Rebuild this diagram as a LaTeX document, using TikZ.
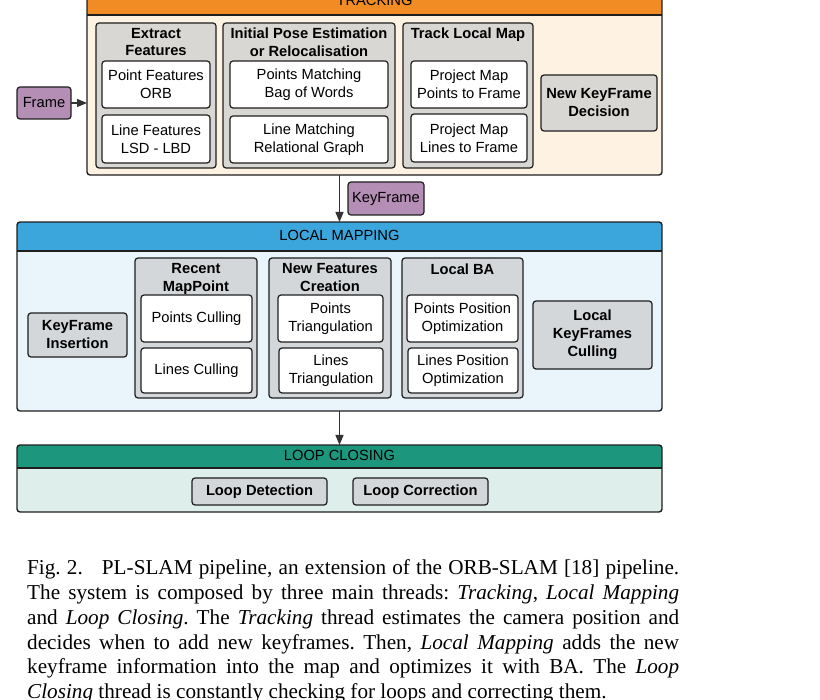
\documentclass[tikz,border=0pt]{standalone}
\usepackage{fontspec}
\setmainfont{Liberation Serif}
\setsansfont{Liberation Sans}
\usetikzlibrary{arrows.meta,calc}

\definecolor{edge}{RGB}{30,30,30}
\definecolor{arrowc}{RGB}{50,50,50}
\definecolor{trkhead}{RGB}{240,140,35}
\definecolor{trkbody}{RGB}{254,242,227}
\definecolor{trkgray}{RGB}{217,215,212}
\definecolor{lmhead}{RGB}{58,166,220}
\definecolor{lmbody}{RGB}{234,244,251}
\definecolor{lchead}{RGB}{28,150,125}
\definecolor{lcbody}{RGB}{222,239,235}
\definecolor{coolgray}{RGB}{212,215,218}
\definecolor{msg}{RGB}{180,142,180}

\begin{document}
\begin{tikzpicture}[x=1pt, y=-1pt,
  every node/.style={font=\sffamily\fontsize{14.7}{18}\selectfont},
  thread/.style={inner sep=0pt, outer sep=0pt},
  threadline/.style={draw=edge, line width=1.4pt, rounded corners=3pt},
  group/.style={draw=edge, line width=1.2pt, rounded corners=3pt, inner sep=0pt, outer sep=0pt},
  grouptitle/.style={font=\sffamily\bfseries\fontsize{14.7}{17.5}\selectfont,
    align=center, inner sep=0pt, anchor=north},
  leaf/.style={draw=edge, fill=white, line width=1.2pt, rounded corners=3pt,
    align=center, inner sep=0pt, outer sep=0pt},
  stage/.style={draw=edge, line width=1.2pt, rounded corners=3pt, align=center,
    inner sep=0pt, outer sep=0pt, font=\sffamily\bfseries\fontsize{14.7}{18}\selectfont},
  datum/.style={draw=edge, fill=msg, line width=1.2pt, rounded corners=3pt,
    inner sep=0pt, outer sep=0pt},
  flow/.style={draw=arrowc, line width=1.2pt, ->},
  >={Triangle[length=10pt,width=8pt]}]

\useasboundingbox (0,0) rectangle (820,700);
\clip (0,0) rectangle (820,700);

\def\hdr{29}  %% header band height

%% ── Tracking thread ─────────────────────────────────────────────────────────
\node[thread, fill=trkbody, minimum width=575pt, minimum height=189pt]
  (tracking) at (374.5,80.5) {};
\begin{scope}
  \clip[rounded corners=3pt] (tracking.north west) rectangle (tracking.south east);
  \fill[trkhead] (tracking.north west) rectangle ($(tracking.north east)+(0,\hdr)$);
\end{scope}
\draw[threadline] (tracking.north west) rectangle (tracking.south east);
\draw[edge, line width=1.2pt] ($(tracking.north west)+(0,\hdr)$) -- ($(tracking.north east)+(0,\hdr)$);
\node (trackhead) at ($(tracking.north)+(0,14.5)$) {TRACKING};

%% Extract features
\node[group, fill=trkgray, minimum width=120pt, minimum height=145pt] (extract) at (156,95.5) {};
\node[grouptitle] (extracttitle) at ($(extract.north)+(0,5)$) {Extract\\Features};
\node[leaf, minimum width=108pt, minimum height=47pt] (ptfeat) at (156,84.5) {Point Features\\ORB};
\node[leaf, minimum width=108pt, minimum height=48pt] (lnfeat) at (156,139) {Line Features\\LSD - LBD};

%% Initial pose
\node[group, fill=trkgray, minimum width=172pt, minimum height=145pt] (initpose) at (309,95.5) {};
\node[grouptitle] (initposetitle) at ($(initpose.north)+(0,5)$) {Initial Pose Estimation\\or Relocalisation};
\node[leaf, minimum width=158pt, minimum height=47pt] (ptmatch) at (309,84.5) {Points Matching\\Bag of Words};
\node[leaf, minimum width=158pt, minimum height=47pt] (lnmatch) at (309,139.5) {Line Matching\\Relational Graph};

%% Track local map
\node[group, fill=trkgray, minimum width=130pt, minimum height=145pt] (trackmap) at (468,95.5) {};
\node[grouptitle] (trackmaptitle) at ($(trackmap.north)+(0,5)$) {Track Local Map};
\node[leaf, minimum width=116pt, minimum height=47pt] (projpts) at (469,84.5) {Project Map\\Points to Frame};
\node[leaf, minimum width=116pt, minimum height=48pt] (projlns) at (469,138) {Project Map\\Lines to Frame};

\node[stage, fill=trkgray, minimum width=116pt, minimum height=56pt] (newkf) at (599,103) {New KeyFrame\\Decision};

%% Input frame
\node[datum, minimum width=54pt, minimum height=32pt] (frame) at (44,103) {Frame};
\draw[flow] (frame.east) -- (frame -| tracking.west);

%% ── Local mapping thread ────────────────────────────────────────────────────
\node[thread, fill=lmbody, minimum width=645pt, minimum height=189pt]
  (lmap) at (339.5,316.5) {};
\begin{scope}
  \clip[rounded corners=3pt] (lmap.north west) rectangle (lmap.south east);
  \fill[lmhead] (lmap.north west) rectangle ($(lmap.north east)+(0,\hdr)$);
\end{scope}
\draw[threadline] (lmap.north west) rectangle (lmap.south east);
\draw[edge, line width=1.2pt] ($(lmap.north west)+(0,\hdr)$) -- ($(lmap.north east)+(0,\hdr)$);
\node (lmaphead) at ($(lmap.north)+(0,13.5)$) {LOCAL MAPPING};

\node[stage, fill=coolgray, minimum width=99pt, minimum height=44pt] (kfins) at (77.5,335) {KeyFrame\\Insertion};

%% Recent map points
\node[group, fill=coolgray, minimum width=122pt, minimum height=140pt] (recent) at (196,328) {};
\node[grouptitle] (recenttitle) at ($(recent.north)+(0,5.5)$) {Recent\\MapPoint};
\node[leaf, minimum width=111pt, minimum height=47pt] (ptcull) at (196.5,318.5) {Points Culling};
\node[leaf, minimum width=111pt, minimum height=45pt] (lncull) at (196.5,370.5) {Lines Culling};

%% New features
\node[group, fill=coolgray, minimum width=122pt, minimum height=140pt] (newfeat) at (330,328) {};
\node[grouptitle] (newfeattitle) at ($(newfeat.north)+(0,5.5)$) {New Features\\Creation};
\node[leaf, minimum width=105pt, minimum height=47pt] (pttri) at (330.5,318.5) {Points\\Triangulation};
\node[leaf, minimum width=104pt, minimum height=45pt] (lntri) at (331,370.5) {Lines\\Triangulation};

%% Local BA
\node[group, fill=coolgray, minimum width=121pt, minimum height=140pt] (localba) at (462.5,328) {};
\node[grouptitle] (localbatitle) at ($(localba.north)+(0,5.5)$) {Local BA};
\node[leaf, minimum width=111pt, minimum height=47pt] (ptopt) at (462.5,318.5) {Points Position\\Optimization};
\node[leaf, minimum width=110pt, minimum height=45pt] (lnopt) at (463,370.5) {Lines Position\\Optimization};

\node[stage, fill=coolgray, minimum width=119pt, minimum height=68pt] (kfcull) at (592.5,335) {Local\\KeyFrames\\Culling};

%% KeyFrame handed over
\node[datum, minimum width=76pt, minimum height=33pt] (keyframe) at (386,198.5) {KeyFrame};
\draw[flow] (tracking.south -| lmap.north) -- (lmap.north);

%% ── Loop closing thread ─────────────────────────────────────────────────────
\node[thread, fill=lcbody, minimum width=645pt, minimum height=67pt]
  (lclose) at (339.5,478.5) {};
\begin{scope}
  \clip[rounded corners=3pt] (lclose.north west) rectangle (lclose.south east);
  \fill[lchead] (lclose.north west) rectangle ($(lclose.north east)+(0,23)$);
\end{scope}
\draw[threadline] (lclose.north west) rectangle (lclose.south east);
\draw[edge, line width=1.2pt] ($(lclose.north west)+(0,23)$) -- ($(lclose.north east)+(0,23)$);
\node (lclosehead) at ($(lclose.north)+(0,10.5)$) {LOOP CLOSING};

\node[stage, fill=coolgray, minimum width=135pt, minimum height=27pt] (loopdet) at (259.5,491.5) {Loop Detection};
\node[stage, fill=coolgray, minimum width=135pt, minimum height=27pt] (loopcor) at (420.5,491.5) {Loop Correction};

\draw[flow] (lmap.south) -- (lclose.north);

%% ── Caption ─────────────────────────────────────────────────────────────────
\node[anchor=north west, inner sep=0pt, text width=652pt, align=justify,
      font=\rmfamily\frenchspacing\fontsize{21.2}{24.8}\selectfont]
  (caption) at (27,559.5)
  {Fig.~2.\hspace{0.9em}PL-SLAM pipeline, an extension of the ORB-SLAM [18] pipeline.\linebreak
   The system is composed by three main threads: \textit{Tracking}, \textit{Local Mapping}\linebreak
   and \textit{Loop Closing}. The \textit{Tracking} thread estimates the camera position and\linebreak
   decides when to add new keyframes. Then, \textit{Local Mapping} adds the new\linebreak
   keyframe information into the map and optimizes it with BA. The \textit{Loop}\linebreak
   \textit{Closing} thread is constantly checking for loops and correcting them.};

\end{tikzpicture}
\end{document}
